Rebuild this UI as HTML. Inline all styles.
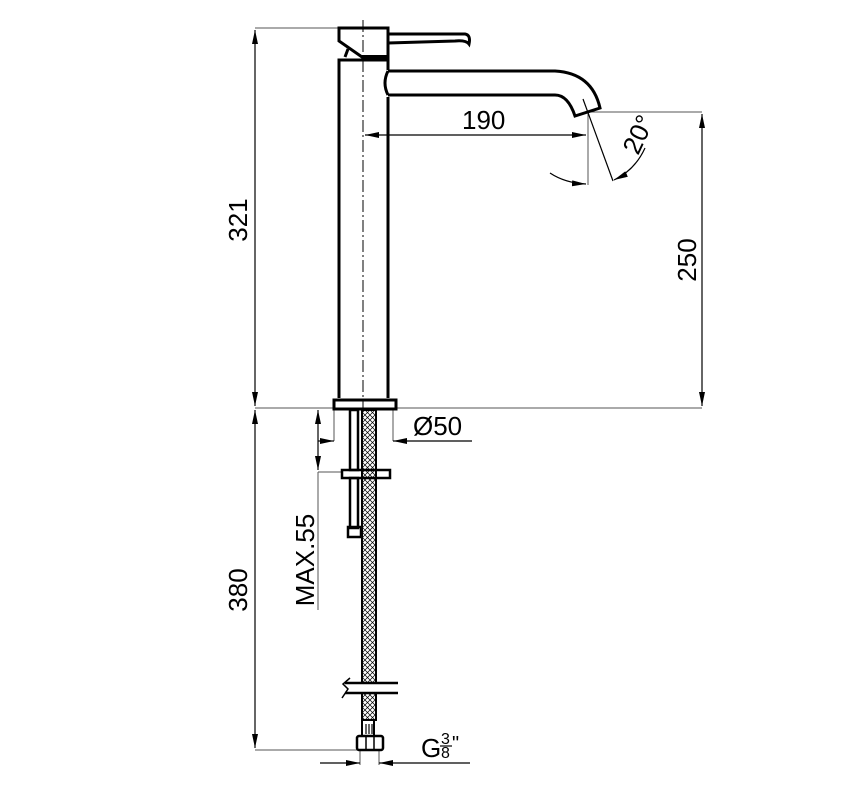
<!DOCTYPE html>
<html><head><style>body{margin:0;background:#fff}svg{display:block}</style></head><body>
<svg width="862" height="793" viewBox="0 0 862 793" xmlns="http://www.w3.org/2000/svg" font-family="Liberation Sans, sans-serif">
<defs>
<pattern id="hatch" width="5" height="5" patternUnits="userSpaceOnUse"><path d="M0 0L5 5M5 0L0 5" stroke="#000" stroke-width="0.7"/></pattern>
<marker id="a" markerWidth="14" markerHeight="6" refX="14" refY="3" orient="auto-start-reverse" markerUnits="userSpaceOnUse"><path d="M0 0L14 3L0 6z" fill="#000"/></marker>
</defs>
<g stroke="#000" fill="none">
<g stroke-width="1" stroke="#555">
<line x1="255" y1="28" x2="339" y2="28"/>
<line x1="255" y1="408" x2="702" y2="408"/>
<line x1="590" y1="112" x2="702" y2="112"/>
<line x1="588" y1="113" x2="588" y2="185"/>
<line x1="318" y1="472" x2="342" y2="472"/>
<line x1="318" y1="472" x2="318" y2="610"/>
<line x1="255" y1="750" x2="357" y2="750"/>
<line x1="334" y1="410" x2="334" y2="441"/>
<line x1="393" y1="410" x2="393" y2="441"/>
<line x1="360" y1="750" x2="360" y2="765"/>
<line x1="379" y1="750" x2="379" y2="765"/>
</g>
<g stroke-width="1.2">
<line x1="255" y1="30" x2="255" y2="406" marker-start="url(#a)" marker-end="url(#a)"/>
<line x1="255" y1="410" x2="255" y2="748" marker-start="url(#a)" marker-end="url(#a)"/>
<line x1="702" y1="114" x2="702" y2="406" marker-start="url(#a)" marker-end="url(#a)"/>
<line x1="365" y1="135" x2="586" y2="135" marker-start="url(#a)" marker-end="url(#a)"/>
<line x1="318" y1="410" x2="318" y2="470" marker-start="url(#a)" marker-end="url(#a)"/>
<line x1="318" y1="441" x2="334" y2="441" marker-end="url(#a)"/>
<line x1="472" y1="441" x2="393" y2="441" marker-end="url(#a)"/>
<line x1="320" y1="763" x2="360" y2="763" marker-end="url(#a)"/>
<line x1="470" y1="763" x2="379" y2="763" marker-end="url(#a)"/>
<line x1="583" y1="99" x2="613" y2="181"/>
<path d="M550 173 Q565 183 586 184" marker-end="url(#a)"/>
<path d="M645 148 Q635 170 614 180" marker-end="url(#a)"/>
</g>
<line x1="363" y1="20" x2="363" y2="410" stroke-width="1" stroke-dasharray="12,3,2,3"/>
<g stroke-width="3">
<path d="M339 41 L339 28 L388 28 L388 57 L362 57 Z"/>
<line x1="362" y1="57" x2="388" y2="57" stroke-width="4"/>
<path d="M345 57 L348 49"/>
<path d="M388 34 L465 34 Q471 35 469 44 Q466 40 455 41 L388 43"/>
<path d="M339 398 L339 60 L388 60 L388 70"/>
<path d="M388 97 L388 398"/>
<path d="M388 71 L555 71 Q592 73 600 108 L575 116 Q568 95 555 95 L388 95"/>
<path d="M388 71 Q382 83 388 95"/>
<rect x="334" y="400" width="62" height="9"/>
<rect x="350" y="410" width="8" height="60" stroke-width="2.5"/>
<rect x="342" y="470" width="48" height="8" stroke-width="2.5"/>
<rect x="350" y="478" width="8" height="50" stroke-width="2.5"/>
<rect x="348" y="527" width="13" height="10" stroke-width="2.5"/>
<rect x="362" y="410" width="14" height="273" fill="url(#hatch)" stroke-width="2"/>
<rect x="362" y="693" width="14" height="27" fill="url(#hatch)" stroke-width="2"/>
<rect x="362" y="720" width="12" height="16" stroke-width="2"/>
<path d="M366 724v10M369 724v10M372 724v10" stroke-width="1.2"/>
<rect x="357" y="736" width="26" height="14" rx="2" stroke-width="2.5"/>
<path d="M366 736v14M374 736v14" stroke-width="1.5"/>
<line x1="345" y1="683" x2="398" y2="683" stroke-width="2.5"/>
<line x1="345" y1="693" x2="398" y2="693" stroke-width="2.5"/>
<path d="M350 678 L343 684 L348 689 L342 698" stroke-width="1.5"/>
</g>
</g>
<g font-size="26" fill="#000">
<text x="462" y="129">190</text>
<text x="413" y="435">Ø50</text>
<text transform="translate(247 220) rotate(-90)" text-anchor="middle">321</text>
<text transform="translate(247 590) rotate(-90)" text-anchor="middle">380</text>
<text transform="translate(696 260) rotate(-90)" text-anchor="middle">250</text>
<text transform="translate(314 560) rotate(-90)" text-anchor="middle">MAX.55</text>
<text transform="translate(638 156) rotate(-65)">20°</text>
<text x="421" y="757">G</text>
<text x="441" y="744" font-size="16">3</text>
<text x="441" y="758" font-size="16">8</text>
<line x1="440" y1="746" x2="452" y2="746" stroke="#000" stroke-width="1.2"/>
<text x="452" y="750" font-size="20">"</text>
</g>
</svg>
</body></html>
